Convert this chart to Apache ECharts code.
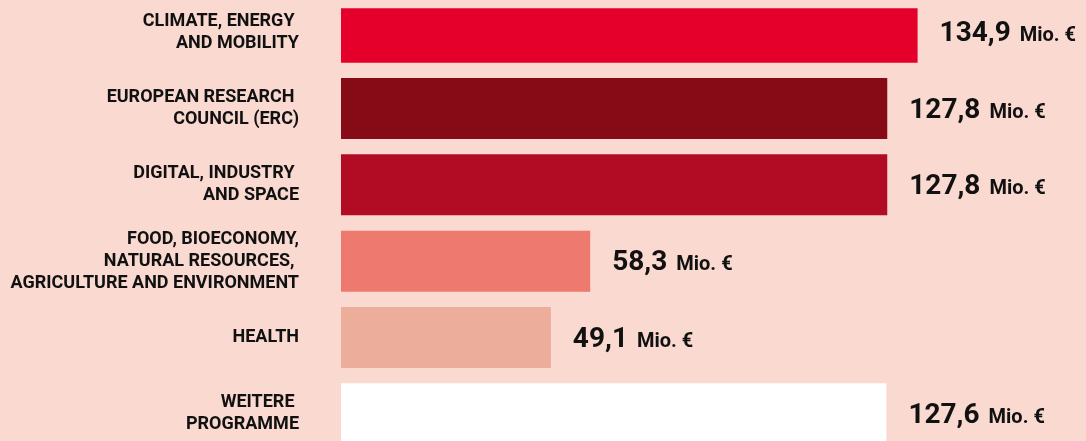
<!DOCTYPE html>
<html>
<head>
<meta charset="utf-8">
<script src="https://cdn.jsdelivr.net/npm/echarts@6/dist/echarts.min.js"></script>
<style>
  html, body { margin: 0; padding: 0; background: #f9d9d0; }
  #chart { width: 1086px; height: 441px; }
</style>
</head>
<body>
<div id="chart"></div>
<script>
// Funding per programme area (Mio. €)
const categories = [
  'CLIMATE, ENERGY \nAND MOBILITY',
  'EUROPEAN RESEARCH \nCOUNCIL (ERC)',
  'DIGITAL, INDUSTRY \nAND SPACE',
  'FOOD, BIOECONOMY,\nNATURAL RESOURCES, \nAGRICULTURE AND ENVIRONMENT',
  'HEALTH',
  'WEITERE \nPROGRAMME'
];
const values = [134.9, 127.8, 127.8, 58.3, 49.1, 127.6];
const barColors = ['#e4002b', '#870b17', '#b10c23', '#ee796e', '#ecae9b', '#ffffff'];
const unitLabel = 'Mio. €';

const FONT = 'Roboto, "Noto Sans", sans-serif';
const TEXT_COLOR = '#111111';
const BAR_RATIO = 0.8;      // bar thickness relative to the category band
const FIRST_BAR_TRIM = 6.5; // top bar is slightly slimmer at its upper edge
const LABEL_GAP = 22;

function fmt(v) {
  return v.toFixed(1).replace('.', ',');
}

const chart = echarts.init(document.getElementById('chart'), null, { renderer: 'canvas' });

chart.setOption({
  backgroundColor: '#f9d9d0',
  animation: false,
  grid: {
    left: 341, top: -6, width: 748, height: 458,
    containLabel: false,
    outerBoundsMode: 'none'
  },
  xAxis: {
    type: 'value',
    min: 0,
    max: 175,
    show: false
  },
  yAxis: {
    type: 'category',
    data: categories,
    inverse: true,
    axisLine: { show: false },
    axisTick: { show: false },
    splitLine: { show: false },
    axisLabel: {
      margin: 42,
      align: 'right',
      fontFamily: FONT,
      fontWeight: 'bold',
      fontSize: 18,
      lineHeight: 22,
      color: TEXT_COLOR
    }
  },
  series: [{
    type: 'custom',
    encode: { x: 0, y: 1 },
    clip: false,
    data: values.map((v, i) => [v, i]),
    renderItem(params, api) {
      const i = params.dataIndex;
      const start = api.coord([0, i]);
      const end = api.coord([api.value(0), i]);
      const band = api.size([0, 1])[1];
      const h = band * BAR_RATIO;
      let top = start[1] - h / 2;
      let height = h;
      if (i === 0) {
        top += FIRST_BAR_TRIM;
        height -= FIRST_BAR_TRIM;
      }
      const width = end[0] - start[0];
      return {
        type: 'rect',
        shape: { x: start[0], y: top, width: width, height: height },
        style: { fill: barColors[i] },
        textContent: {
          style: {
            text: '{v|' + fmt(api.value(0)) + '}{u|' + unitLabel + '}',
            align: 'left',
            verticalAlign: 'middle',
            fill: TEXT_COLOR,
            rich: {
              v: {
                fontFamily: FONT,
                fontWeight: 'bold',
                fontSize: 28,
                lineHeight: 32,
                fill: TEXT_COLOR,
                verticalAlign: 'bottom'
              },
              u: {
                fontFamily: FONT,
                fontWeight: 'bold',
                fontSize: 20,
                lineHeight: 32,
                fill: TEXT_COLOR,
                padding: [0, 0, 2, 9],
                verticalAlign: 'bottom'
              }
            }
          }
        },
        textConfig: {
          position: [width + LABEL_GAP, start[1] - top],
          inside: false
        }
      };
    }
  }]
});
</script>
</body>
</html>
